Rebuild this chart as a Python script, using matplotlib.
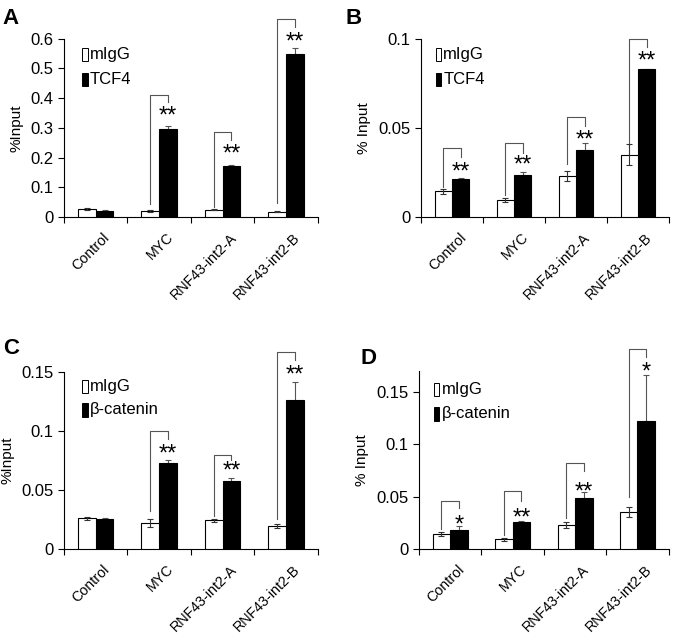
import matplotlib
matplotlib.use("Agg")
import matplotlib.pyplot as plt
from matplotlib.patches import Rectangle
from matplotlib.ticker import FuncFormatter

plt.rcParams["font.family"] = ["Liberation Sans", "DejaVu Sans"]

categories = ["Control", "MYC", "RNF43-int2-A", "RNF43-int2-B"]

# panel A: TCF4, cell line 1
igg_a = [0.027, 0.022, 0.025, 0.018]
igg_a_err = [0.003, 0.003, 0.002, 0.002]
tcf4_a = [0.021, 0.295, 0.173, 0.548]
tcf4_a_err = [0.003, 0.013, 0.004, 0.020]

# panel B: TCF4, cell line 2
igg_b = [0.0145, 0.0095, 0.023, 0.035]
igg_b_err = [0.0015, 0.001, 0.003, 0.006]
tcf4_b = [0.0215, 0.0235, 0.0378, 0.0828]
tcf4_b_err = [0.0005, 0.002, 0.004, 0.0003]

# panel C: beta-catenin, cell line 1
igg_c = [0.026, 0.022, 0.0242, 0.0195]
igg_c_err = [0.0015, 0.003, 0.0015, 0.002]
bcat_c = [0.0252, 0.0732, 0.0574, 0.126]
bcat_c_err = [0.001, 0.002, 0.003, 0.015]

# panel D: beta-catenin, cell line 2
igg_d = [0.0142, 0.0092, 0.0228, 0.0355]
igg_d_err = [0.002, 0.0015, 0.003, 0.005]
bcat_d = [0.0178, 0.0257, 0.049, 0.1215]
bcat_d_err = [0.004, 0.001, 0.005, 0.044]

# significance brackets: group, top, left leg end, right leg end, star level, mark
sig_a = ([1, 2, 3], [0.411, 0.285, 0.665], [0.044, 0.035, 0.047],
         [0.386, 0.260, 0.640], [0.363, 0.234, 0.612], ["**", "**", "**"])
sig_b = ([0, 1, 2, 3], [0.039, 0.0414, 0.056, 0.1], [0.017, 0.0125, 0.030, 0.040],
         [0.034, 0.036, 0.051, 0.0955], [0.029, 0.033, 0.047, 0.091],
         ["**", "**", "**", "**"])
sig_c = ([1, 2, 3], [0.1002, 0.0794, 0.167], [0.032, 0.0276, 0.025],
         [0.093, 0.0754, 0.160], [0.086, 0.072, 0.153], ["**", "**", "**"])
sig_d = ([0, 1, 2, 3], [0.046, 0.0549, 0.0818, 0.191], [0.019, 0.0136, 0.0295, 0.050],
         [0.039, 0.0453, 0.0739, 0.183], [0.029, 0.0358, 0.0606, 0.175],
         ["*", "**", "**", "*"])

fig = plt.figure(figsize=(6.73, 6.35), dpi=100)

panels = [
    ("A", [0.095, 0.658, 0.377, 0.281], igg_a, igg_a_err, tcf4_a, tcf4_a_err, "TCF4",
     sig_a, (0, 0.6), [0, 0.1, 0.2, 0.3, 0.4, 0.5, 0.6], "%Input", (0.071, 0.91, 0.77)),
    ("B", [0.6256, 0.658, 0.3685, 0.281], igg_b, igg_b_err, tcf4_b, tcf4_b_err, "TCF4",
     sig_b, (0, 0.1), [0, 0.05, 0.1], "% Input", (0.06, 0.91, 0.77)),
    ("C", [0.095, 0.1354, 0.377, 0.279], igg_c, igg_c_err, bcat_c, bcat_c_err, "β-catenin",
     sig_c, (0, 0.15), [0, 0.05, 0.1, 0.15], "%Input", (0.071, 0.918, 0.785)),
    ("D", [0.6226, 0.1354, 0.371, 0.281], igg_d, igg_d_err, bcat_d, bcat_d_err, "β-catenin",
     sig_d, (0, 0.17), [0, 0.05, 0.1, 0.15], "% Input", (0.06, 0.892, 0.757)),
]

letter_pos = {"A": (0.004, 0.988), "B": (0.513, 0.988), "C": (0.004, 0.467), "D": (0.535, 0.452)}

w = 0.28
for letter, rect, igg, igg_err, ab, ab_err, ab_name, sig, ylim, yticks, ylabel, leg in panels:
    ax = fig.add_axes(rect)
    x = [i + 0.5 for i in range(len(categories))]
    # error bars of the black bars sit behind them, so only the upper half shows
    ax.bar([v + w / 2 for v in x], ab, w, yerr=ab_err, color="black", edgecolor="black",
           linewidth=0.8, zorder=3,
           error_kw=dict(ecolor="#555555", elinewidth=0.8, capsize=2, capthick=0.8, zorder=2))
    ax.bar([v - w / 2 for v in x], igg, w, yerr=igg_err, color="white", edgecolor="black",
           linewidth=0.8, zorder=3,
           error_kw=dict(ecolor="#333333", elinewidth=0.8, capsize=2, capthick=0.8, zorder=4))

    groups, tops, lefts, rights, stars, marks = sig
    for g, t, l, r, s, m in zip(groups, tops, lefts, rights, stars, marks):
        xl = g + 0.5 - w / 2
        xr = g + 0.5 + w / 2
        ax.plot([xl, xl, xr, xr], [l, t, t, r], color="#555555", lw=0.8, clip_on=False)
        ax.annotate(m, (xr, s), xytext=(0, -9.5), textcoords="offset points",
                    ha="center", va="baseline", fontsize=17, annotation_clip=False)

    ax.set_xlim(0, 4)
    ax.set_ylim(*ylim)
    ax.set_yticks(yticks)
    ax.yaxis.set_major_formatter(FuncFormatter(lambda v, p: "%g" % round(v, 3)))
    ax.set_xticks([0, 1, 2, 3, 4])
    ax.set_xticklabels([])
    for xc, name in zip(x, categories):
        ax.annotate(name, (xc, 0), xycoords=("data", "axes fraction"), xytext=(5, -9.5),
                    textcoords="offset points", rotation=45, ha="right", va="top",
                    rotation_mode="anchor", fontsize=10.3)
    ax.tick_params(axis="x", which="major", direction="out", length=4, width=0.8)
    ax.tick_params(axis="y", direction="out", length=4, width=0.8, labelsize=12)
    for side in ["top", "right"]:
        ax.spines[side].set_visible(False)
    for side in ["left", "bottom"]:
        ax.spines[side].set_linewidth(0.8)
    ax.set_ylabel(ylabel, fontsize=11, labelpad=5)

    lx, ly1, ly2 = leg
    for yy, col, name in [(ly1, "white", "mIgG"), (ly2, "black", ab_name)]:
        ax.add_patch(Rectangle((lx, yy - 0.037), 0.022, 0.074, transform=ax.transAxes,
                               facecolor=col, edgecolor="black", linewidth=0.7))
        ax.text(lx + 0.03, yy, name, transform=ax.transAxes, va="center", ha="left",
                fontsize=12)

    fig.text(letter_pos[letter][0], letter_pos[letter][1], letter, fontsize=16,
             fontweight="bold", va="top", ha="left")

fig.savefig("out.png", dpi=100)
